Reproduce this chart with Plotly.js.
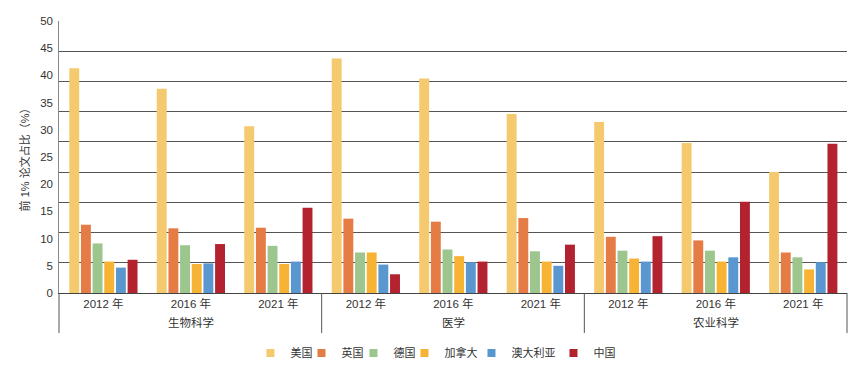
<!DOCTYPE html>
<html>
<head>
<meta charset="utf-8">
<script src="https://cdn.plot.ly/plotly-3.0.1.min.js"></script>
<style>
  html, body { margin: 0; padding: 0; background: #ffffff; }
  #chart { width: 862px; height: 370px; }
</style>
</head>
<body>
<div id="chart"></div>
<script>
// Outer categories (fields) and inner categories (years)
const fields = ["生物科学", "医学", "农业科学"];
const years = ["2012 年", "2016 年", "2021 年"];
const countries = ["美国", "英国", "德国", "加拿大", "澳大利亚", "中国"];

// Share of top 1% papers (%), order: 生物科学 2012/2016/2021, 医学 2012/2016/2021, 农业科学 2012/2016/2021
const usa       = [37.2, 33.8, 27.6, 38.8, 35.5, 29.6, 28.3, 24.8, 20.0];
const uk        = [11.3, 10.7, 10.8, 12.3, 11.8, 12.4, 9.3, 8.7, 6.7];
const germany   = [8.2, 7.9, 7.8, 6.7, 7.2, 6.9, 7.0, 7.0, 5.9];
const canada    = [5.2, 4.8, 4.8, 6.7, 6.1, 5.2, 5.7, 5.2, 3.9];
const australia = [4.2, 4.9, 5.2, 4.7, 5.1, 4.5, 5.2, 5.9, 5.1];
const china     = [5.5, 8.1, 14.1, 3.1, 5.2, 8.0, 9.4, 15.1, 24.7];

// Printed tick labels of the value axis
const yTickLabels = ["0", "5", "10", "15", "20", "25", "30", "35", "40", "45", "50"];

const seriesValues = [usa, uk, germany, canada, australia, china];
const colors = ["#F5CA6E", "#E67C45", "#9CC68D", "#F7B334", "#5A97D0", "#B3232F"];
// legend entry widths (spacing of the legend row)
const legendWidths = [6, 7, 6, 22, 37, 24];

// unique category keys (field + year), displayed with the year only
const cats = [];
const catYear = [];
fields.forEach(f => years.forEach(y => { cats.push(f + " " + y); catYear.push(y); }));

const font = "Liberation Sans, Arial, 'Noto Sans CJK SC', sans-serif";

const traces = [];
seriesValues.forEach((vals, i) => {
  traces.push({
    type: "bar",
    name: countries[i],
    x: cats,
    y: vals,
    marker: { color: colors[i], line: { width: 0 } },
    showlegend: false,
    hoverinfo: "y+name"
  });
});
// legend entries (small square symbols)
countries.forEach((c, i) => {
  traces.push({
    type: "scatter",
    mode: "markers",
    name: c,
    x: [cats[0]],
    y: [null],
    marker: { symbol: "square", size: 8, color: colors[i] },
    showlegend: true,
    legendwidth: legendWidths[i]
  });
});
// invisible trace carrying the printed tick-label axis
traces.push({
  type: "scatter", mode: "markers",
  x: [cats[0]], y: [null],
  yaxis: "y2", showlegend: false, hoverinfo: "skip"
});

const yVals = yTickLabels.map(Number);

// field group labels and dividers under the category axis
const nYears = years.length;
const annotations = fields.map((f, k) => ({
  text: f,
  xref: "x", x: cats[k * nYears + Math.floor(nYears / 2)],
  yref: "paper", y: 0, yanchor: "middle", yshift: -29,
  showarrow: false,
  font: { size: 11.5, color: "#333333" }
}));
const dividerDepth = 40 / 272; // in plot heights
const shapes = [];
for (let k = 0; k <= fields.length; k++) {
  shapes.push({
    type: "line", xref: "paper", yref: "paper",
    x0: k / fields.length, x1: k / fields.length,
    y0: 0, y1: -dividerDepth,
    line: { color: "#555555", width: 1 }
  });
}

const layout = {
  width: 862,
  height: 370,
  margin: { l: 59, r: 15, t: 21, b: 77, autoexpand: false },
  paper_bgcolor: "#ffffff",
  plot_bgcolor: "#ffffff",
  font: { family: font, size: 11, color: "#333333" },
  barmode: "group",
  bargap: 0.2,
  bargroupgap: 0.15,
  showlegend: true,
  legend: {
    orientation: "h",
    x: 0.243, xanchor: "left",
    y: -0.2206, yanchor: "middle",
    font: { size: 11, color: "#333333" },
    itemwidth: 30,
    traceorder: "normal"
  },
  annotations: annotations,
  shapes: shapes,
  xaxis: {
    type: "category",
    automargin: false,
    tickmode: "array",
    tickvals: cats,
    ticktext: catYear,
    showline: true,
    linecolor: "#444444",
    linewidth: 1,
    ticks: "",
    tickfont: { size: 11.5, color: "#333333" },
    showgrid: false
  },
  yaxis: {
    automargin: false,
    range: [0, 45],
    dtick: 5,
    showgrid: true,
    gridcolor: "#555555",
    gridwidth: 1,
    showticklabels: false,
    zeroline: false,
    showline: true,
    linecolor: "#888888",
    linewidth: 1,
    ticks: "",
    fixedrange: true
  },
  yaxis2: {
    automargin: false,
    overlaying: "y",
    side: "left",
    range: [0, 50],
    tickmode: "array",
    tickvals: yVals,
    ticktext: yTickLabels,
    showgrid: false,
    zeroline: false,
    showline: false,
    ticks: "",
    ticklabelstandoff: 5,
    tickfont: { size: 11.5, color: "#333333" },
    title: { text: "前 1% 论文占比（%）", font: { size: 11, color: "#333333" }, standoff: 8 }
  }
};

Plotly.newPlot("chart", traces, layout, { displayModeBar: false, staticPlot: true });
</script>
</body>
</html>
